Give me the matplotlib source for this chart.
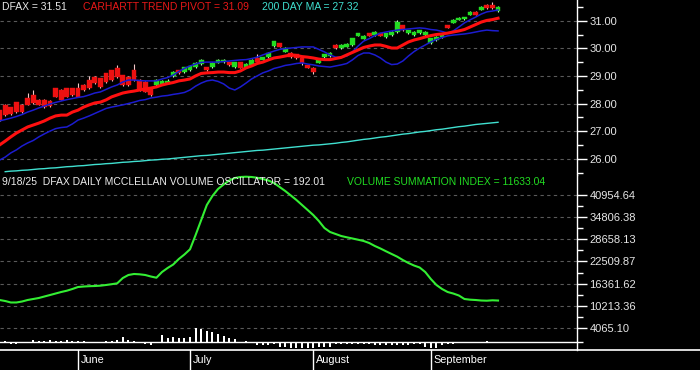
import matplotlib
matplotlib.use('Agg')
import matplotlib.pyplot as plt
import numpy as np
from matplotlib.patches import Rectangle
from matplotlib.lines import Line2D
from matplotlib.ticker import FixedLocator, FormatStrFormatter

plt.rcParams['font.family'] = ['Liberation Sans', 'DejaVu Sans']

# ---------------- data ----------------
opens = [27.76, 27.95, 27.87, 28.05, 27.95, 28.20, 28.31, 28.13, 28.13, 28.09,
         28.56, 28.49, 28.56, 28.56, 28.56, 28.67, 28.85, 28.96, 28.92, 29.10,
         29.21, 29.29, 29.03, 28.96, 29.21, 28.85, 28.78, 28.56, 28.67, 28.71,
         28.71, 28.99, 29.21, 29.14, 29.21, 29.32, 29.43, 29.32, 29.32, 29.47,
         29.50, 29.50, 29.32, 29.50, 29.29, 29.39, 29.65, 29.58, 29.68, 30.08,
         30.19, 29.87, 29.83, 29.79, 29.65, 29.39, 29.29, 29.47, 29.68, 29.72,
         30.12, 30.01, 30.05, 30.12, 30.45, 30.34, 30.55, 30.48, 30.55, 30.41,
         30.48, 30.59, 30.84, 30.55, 30.48, 30.55, 30.48, 30.19, 30.30, 30.41,
         30.84, 30.92, 31.03, 31.06, 31.21, 31.32, 31.39, 31.57, 31.57, 31.35]
highs = [27.78, 27.97, 27.89, 28.07, 27.97, 28.38, 28.49, 28.15, 28.15, 28.11,
         28.58, 28.51, 28.58, 28.58, 28.74, 28.69, 28.99, 28.98, 28.94, 29.12,
         29.23, 29.39, 29.05, 28.98, 29.43, 28.87, 28.80, 28.58, 28.87, 28.84,
         28.89, 29.16, 29.23, 29.34, 29.38, 29.49, 29.60, 29.34, 29.49, 29.60,
         29.60, 29.52, 29.52, 29.52, 29.45, 29.60, 29.79, 29.70, 29.85, 30.28,
         30.21, 30.03, 29.85, 29.81, 29.67, 29.41, 29.31, 29.60, 29.81, 29.85,
         30.14, 30.14, 30.18, 30.39, 30.57, 30.47, 30.57, 30.61, 30.57, 30.57,
         30.61, 31.03, 30.86, 30.68, 30.61, 30.68, 30.61, 30.39, 30.43, 30.50,
         30.86, 31.05, 31.12, 31.15, 31.34, 31.34, 31.52, 31.61, 31.68, 31.55]
lows = [27.38, 27.56, 27.60, 27.67, 27.67, 27.93, 28.00, 27.93, 27.85, 27.89,
        28.22, 28.11, 28.22, 28.29, 28.22, 28.47, 28.54, 28.72, 28.58, 28.76,
        28.83, 28.94, 28.65, 28.65, 28.83, 28.47, 28.40, 28.29, 28.65, 28.69,
        28.69, 28.97, 29.08, 29.12, 29.19, 29.30, 29.41, 29.19, 29.30, 29.45,
        29.48, 29.37, 29.30, 29.27, 29.27, 29.37, 29.48, 29.56, 29.66, 30.06,
        30.03, 29.85, 29.66, 29.63, 29.39, 29.27, 29.07, 29.45, 29.66, 29.70,
        29.99, 29.99, 30.03, 30.10, 30.43, 30.32, 30.43, 30.46, 30.43, 30.39,
        30.46, 30.57, 30.64, 30.53, 30.46, 30.53, 30.46, 30.17, 30.28, 30.39,
        30.72, 30.90, 31.01, 31.04, 31.19, 31.19, 31.37, 31.44, 31.44, 31.33]
closes = [27.40, 27.58, 27.62, 27.69, 27.69, 27.95, 28.02, 27.95, 27.87, 27.91,
          28.24, 28.13, 28.24, 28.31, 28.24, 28.49, 28.56, 28.74, 28.60, 28.78,
          28.85, 28.96, 28.67, 28.67, 28.85, 28.49, 28.42, 28.31, 28.85, 28.82,
          28.82, 29.14, 29.10, 29.32, 29.36, 29.47, 29.58, 29.21, 29.47, 29.58,
          29.58, 29.39, 29.50, 29.29, 29.43, 29.58, 29.50, 29.68, 29.83, 30.26,
          30.05, 30.01, 29.68, 29.65, 29.47, 29.29, 29.14, 29.58, 29.79, 29.83,
          30.01, 30.12, 30.16, 30.37, 30.55, 30.45, 30.45, 30.59, 30.45, 30.55,
          30.59, 30.95, 30.66, 30.66, 30.59, 30.66, 30.59, 30.37, 30.41, 30.48,
          30.74, 31.03, 31.10, 31.13, 31.32, 31.21, 31.50, 31.46, 31.46, 31.51]

trend_pivot = [26.50, 26.64, 26.79, 26.93, 27.04, 27.15, 27.22, 27.29, 27.37, 27.47,
               27.55, 27.58, 27.58, 27.69, 27.76, 27.87, 27.95, 28.02, 28.05, 28.13,
               28.24, 28.31, 28.38, 28.42, 28.45, 28.49, 28.53, 28.56, 28.60, 28.67,
               28.72, 28.76, 28.82, 28.85, 28.89, 29.00, 29.09, 29.11, 29.12, 29.14,
               29.14, 29.12, 29.12, 29.18, 29.29, 29.36, 29.45, 29.50, 29.58, 29.65,
               29.68, 29.72, 29.76, 29.74, 29.70, 29.68, 29.65, 29.61, 29.59, 29.59,
               29.63, 29.67, 29.76, 29.85, 29.94, 30.03, 30.08, 30.12, 30.12, 30.07,
               30.01, 30.01, 30.12, 30.23, 30.30, 30.35, 30.41, 30.46, 30.50, 30.52,
               30.55, 30.59, 30.63, 30.68, 30.77, 30.86, 30.95, 31.01, 31.04, 31.09]
upper_band = [27.37, 27.42, 27.47, 27.53, 27.60, 27.69, 27.76, 27.84, 27.91, 27.98,
              28.04, 28.09, 28.14, 28.18, 28.22, 28.25, 28.31, 28.38, 28.42, 28.51,
              28.60, 28.67, 28.78, 28.85, 28.85, 28.83, 28.82, 28.82, 28.82, 28.89,
              28.94, 29.03, 29.16, 29.27, 29.36, 29.43, 29.49, 29.50, 29.50, 29.50,
              29.52, 29.54, 29.56, 29.58, 29.59, 29.63, 29.68, 29.76, 29.83, 29.90,
              29.96, 29.99, 30.01, 30.03, 30.05, 30.05, 30.05, 29.96, 29.87, 29.76,
              29.68, 29.68, 29.72, 29.87, 30.08, 30.26, 30.35, 30.46, 30.55, 30.59,
              30.63, 30.66, 30.68, 30.70, 30.72, 30.74, 30.72, 30.68, 30.66, 30.61,
              30.55, 30.63, 30.77, 30.92, 31.03, 31.13, 31.24, 31.32, 31.35, 31.39]
lower_band = [25.95, 26.06, 26.21, 26.32, 26.46, 26.57, 26.66, 26.79, 26.90, 27.00,
              27.09, 27.13, 27.15, 27.26, 27.40, 27.47, 27.55, 27.64, 27.73, 27.82,
              27.87, 27.91, 27.95, 28.00, 28.05, 28.11, 28.14, 28.20, 28.23, 28.27,
              28.29, 28.33, 28.36, 28.40, 28.49, 28.63, 28.74, 28.82, 28.85, 28.80,
              28.71, 28.56, 28.49, 28.60, 28.74, 28.89, 29.00, 29.11, 29.18, 29.27,
              29.32, 29.38, 29.41, 29.45, 29.47, 29.43, 29.40, 29.36, 29.34, 29.32,
              29.36, 29.40, 29.45, 29.58, 29.74, 29.83, 29.83, 29.76, 29.65, 29.50,
              29.41, 29.43, 29.54, 29.72, 29.88, 30.01, 30.12, 30.23, 30.32, 30.39,
              30.45, 30.48, 30.50, 30.52, 30.55, 30.59, 30.63, 30.66, 30.64, 30.63]
ma200 = [np.nan, 25.53, 25.55, 25.56, 25.58, 25.59, 25.61, 25.63, 25.64, 25.66,
         25.67, 25.69, 25.71, 25.72, 25.74, 25.75, 25.77, 25.79, 25.80, 25.82,
         25.83, 25.85, 25.87, 25.88, 25.90, 25.91, 25.93, 25.95, 25.96, 25.98,
         25.99, 26.01, 26.03, 26.05, 26.07, 26.09, 26.11, 26.12, 26.14, 26.16,
         26.18, 26.20, 26.22, 26.24, 26.26, 26.28, 26.30, 26.31, 26.33, 26.35,
         26.37, 26.39, 26.41, 26.43, 26.45, 26.47, 26.49, 26.50, 26.52, 26.54,
         26.56, 26.59, 26.61, 26.64, 26.67, 26.70, 26.72, 26.75, 26.78, 26.80,
         26.83, 26.86, 26.89, 26.91, 26.94, 26.97, 26.99, 27.02, 27.05, 27.07,
         27.10, 27.13, 27.16, 27.18, 27.21, 27.24, 27.26, 27.28, 27.30, 27.32]

vsi = [11780, 11500, 11090, 11090, 11360, 11780, 12060, 12340, 12760, 13170,
       13590, 14010, 14370, 14850, 15400, 15540, 15630, 15680, 15770, 15960,
       16180, 16430, 17910, 18750, 19030, 18940, 18750, 18330, 17990, 19580,
       20700, 21670, 23210, 24460, 25910, 29890, 34070, 38250, 40760, 42710,
       43960, 45070, 45770, 46050, 46130, 46050, 45830, 45490, 45070, 44380,
       43260, 42150, 40900, 39640, 38250, 36860, 35460, 33790, 31840, 30730,
       30170, 29610, 29250, 28920, 28580, 28220, 27660, 26830, 26130, 25350,
       24600, 23850, 22920, 22090, 21390, 20840, 19580, 17630, 15960, 14850,
       14010, 13590, 13040, 12060, 11870, 11780, 11640, 11590, 11700, 11633.04]
oscillator = [0, 363, -363, -363, 0, 0, 558, 279, 279, 558,
              474, 363, 558, 474, 363, 279, 0, 0, 0, 279,
              363, 558, 1479, 558, 279, -279, -363, -837, -279, 2037,
              1311, 1479, 1200, 1200, 1479, 3990, 3822, 3153, 2790, 2316,
              1758, 1200, 921, 0, 279, 0, -837, -837, -642, -363,
              -1395, -1395, -1479, -1479, -1479, -1479, -1479, -1395, -1311, -1200,
              -363, -363, -363, -363, -363, -363, -474, -642, -642, -753,
              -753, -642, -642, -753, -558, -558, -1395, -1590, -1590, -642,
              -474, -363, -279, -195, 0, -195, 0, 474, 195, 192.01]

price_ticks = [26.0, 27.0, 28.0, 29.0, 30.0, 31.0]
vol_ticks = [4065.10, 10213.36, 16361.62, 22509.87, 28658.13, 34806.38, 40954.64]
month_names = ['June', 'July', 'August', 'September']
month_start_idx = [14, 34, 56, 77]

# ---------------- figure ----------------
W, H = 700, 370
fig = plt.figure(figsize=(W / 100, H / 100), dpi=100, facecolor='black')


def box(x0, y0, x1, y1):
    return [x0 / W, 1 - y1 / H, (x1 - x0) / W, (y1 - y0) / H]


ax1 = fig.add_axes(box(0, 0, 577, 175))
ax2 = fig.add_axes(box(0, 175, 577, 350), sharex=ax1)

idx = np.arange(len(closes))
RED = '#ee1111'
GREEN = '#22dd22'
GRIDC = '#5a5a5a'

for ax in (ax1, ax2):
    ax.set_facecolor('black')
    for s in ('top', 'bottom', 'left'):
        ax.spines[s].set_visible(False)
    ax.spines['right'].set_color('white')
    ax.spines['right'].set_linewidth(1.0)
    ax.yaxis.tick_right()
    ax.tick_params(axis='y', which='major', colors='white', labelcolor='#e6e6e6',
                   direction='out', length=7, width=1, labelsize=8, pad=2)
    ax.tick_params(axis='y', which='minor', colors='white', direction='out',
                   length=4.5, width=1)
    ax.tick_params(axis='x', which='both', bottom=False, labelbottom=False)

ax1.set_xlim(0.07, 103.1)
ax1.set_ylim(25.41, 31.75)
ax2.set_ylim(-2148, 46607)

# top panel grid
ax1.yaxis.set_major_locator(FixedLocator(price_ticks))
ax1.yaxis.set_minor_locator(FixedLocator([t + 0.5 for t in [25.0] + price_ticks]))
ax1.yaxis.set_major_formatter(FormatStrFormatter('%.2f'))
for t in price_ticks:
    ax1.axhline(t, color=GRIDC, lw=0.8, ls=(0, (3, 3)), zorder=0)

# candlesticks
bw = 0.85
for i in idx:
    o, h, l, c = opens[i], highs[i], lows[i], closes[i]
    up = c >= o
    col = GREEN if up else RED
    wick = '#f2c8c8' if not up else '#d8f5d8'
    ax1.vlines(i, l, h, color=wick, lw=0.8, zorder=2)
    lo, hi = min(o, c), max(o, c)
    ax1.add_patch(Rectangle((i - bw / 2, lo), bw, max(hi - lo, 0.03),
                            facecolor=col, edgecolor=col, lw=0.3, zorder=3))

ax1.plot(idx, ma200, color='#40e0d0', lw=1.0, zorder=4)
ax1.plot(idx, lower_band, color='#1c1cd0', lw=1.1, zorder=4)
ax1.plot(idx, upper_band, color='#1c1cd0', lw=1.1, zorder=4)
ax1.plot(idx, trend_pivot, color='#ff1010', lw=2.2, zorder=5)

# bottom panel
ax2.yaxis.set_major_locator(FixedLocator(vol_ticks))
mids = [(vol_ticks[k] + vol_ticks[k + 1]) / 2 for k in range(len(vol_ticks) - 1)]
ax2.yaxis.set_minor_locator(FixedLocator([0] + mids))
ax2.yaxis.set_major_formatter(FormatStrFormatter('%.2f'))
for t in vol_ticks:
    ax2.axhline(t, color=GRIDC, lw=0.8, ls=(0, (3, 3)), zorder=0)

ax2.axhline(0, color='white', lw=1.0, zorder=2)
ax2.bar(idx, oscillator, width=0.34, color='white', zorder=3)
ax2.plot(idx, vsi, color='#33ee33', lw=1.5, zorder=4)

# bottom frame line and month separators
fig.add_artist(Line2D([0, 1], [20 / H, 20 / H], transform=fig.transFigure,
                      color='white', lw=1.2))
trans = ax2.get_xaxis_transform()
for name, mi in zip(month_names, month_start_idx):
    ax2.add_line(Line2D([mi, mi], [0, -20 / 175], transform=trans, color='white',
                        lw=1.0, clip_on=False))
    ax2.text(mi + 0.55, -10 / 175, name, transform=trans, color='white',
             fontsize=7.8, ha='left', va='center', clip_on=False)


# titles
def ftext(x, y, s, color):
    fig.text(x / W, 1 - y / H, s, color=color, fontsize=7.5, ha='left', va='center')


ftext(2, 7, 'DFAX = 31.51', '#e8e8e8')
ftext(83, 7, 'CARHARTT TREND PIVOT = 31.09', '#e81818')
ftext(262, 7, '200 DAY MA = 27.32', '#40e0d0')
ftext(2, 182, '9/18/25  DFAX DAILY MCCLELLAN VOLUME OSCILLATOR = 192.01', '#ececec')
ftext(347, 182, 'VOLUME SUMMATION INDEX = 11633.04', '#22dd22')

fig.savefig('out.png', dpi=100, facecolor='black')
